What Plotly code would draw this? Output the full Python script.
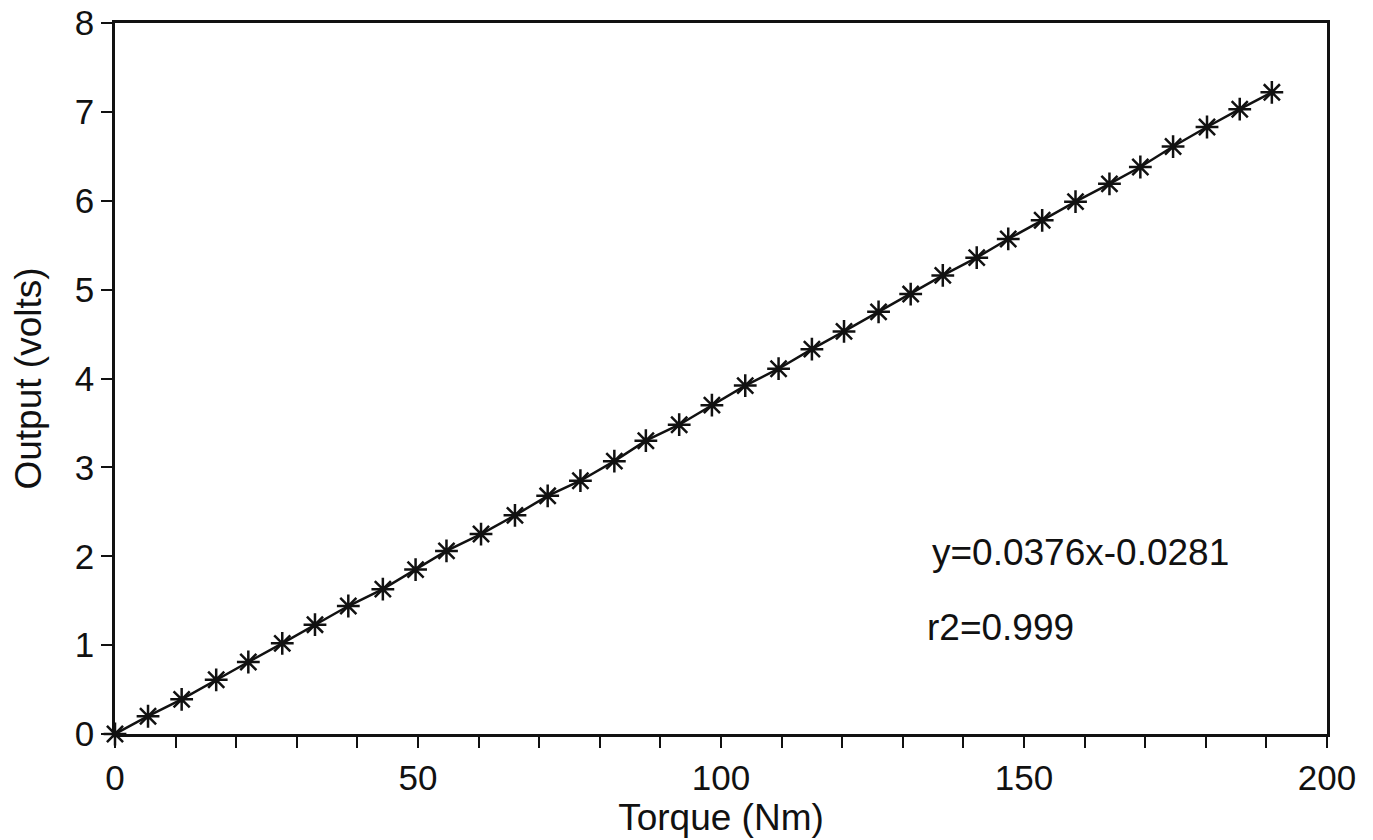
import plotly.graph_objects as go

torque = [0.0, 5.45, 11.0, 16.7, 22.0, 27.6, 33.0, 38.5, 44.2, 49.6,
          54.7, 60.4, 66.0, 71.4, 76.8, 82.4, 87.6, 93.1, 98.5, 104.0,
          109.5, 115.0, 120.3, 126.0, 131.3, 136.6, 142.2, 147.4, 153.0, 158.5,
          164.1, 169.2, 174.6, 180.2, 185.6, 190.9]
output = [0.00, 0.20, 0.39, 0.61, 0.81, 1.02, 1.23, 1.44, 1.63, 1.85,
          2.06, 2.25, 2.46, 2.68, 2.85, 3.07, 3.30, 3.48, 3.70, 3.92,
          4.11, 4.33, 4.53, 4.75, 4.95, 5.16, 5.36, 5.57, 5.78, 5.99,
          6.19, 6.38, 6.61, 6.83, 7.03, 7.22]

x_tickvals = list(range(0, 201, 10))
x_ticktext = [str(v) if v % 50 == 0 else "" for v in x_tickvals]
y_tickvals = list(range(0, 9))
y_ticktext = [str(v) for v in y_tickvals]

eq_text = "y=0.0376x-0.0281"
r2_text = "r2=0.999"

FONT = "Liberation Sans, Arial, sans-serif"
INK = "#111111"

fig = go.Figure()
fig.add_trace(go.Scatter(
    x=torque, y=output, mode="lines+markers",
    line=dict(color=INK, width=2.5),
    marker=dict(symbol="asterisk-open", size=19, color=INK,
                line=dict(color=INK, width=2.5)),
    showlegend=False, cliponaxis=False,
))

fig.add_annotation(x=134.5, y=2.04, xref="x", yref="y", text=eq_text,
                   showarrow=False, xanchor="left", yanchor="middle",
                   font=dict(family=FONT, size=37, color=INK))
fig.add_annotation(x=133.7, y=1.20, xref="x", yref="y", text=r2_text,
                   showarrow=False, xanchor="left", yanchor="middle",
                   font=dict(family=FONT, size=37, color=INK))

fig.update_layout(
    width=1365, height=832,
    margin=dict(l=107, r=46, t=15, b=106),
    paper_bgcolor="white", plot_bgcolor="white",
    font=dict(family=FONT, color=INK),
    xaxis=dict(
        range=[0, 200], tickvals=x_tickvals, ticktext=x_ticktext,
        ticks="outside", ticklen=11, tickwidth=2, tickcolor=INK,
        showline=True, linecolor=INK, linewidth=2.5, mirror=True,
        showgrid=False, zeroline=False, automargin=False,
        ticklabeloverflow="allow",
        tickfont=dict(family=FONT, size=35, color=INK),
        title=dict(text="Torque (Nm)", font=dict(family=FONT, size=37, color=INK),
                   standoff=0),
    ),
    yaxis=dict(
        range=[0, 8], tickvals=y_tickvals, ticktext=y_ticktext,
        ticks="outside", ticklen=11, tickwidth=2, tickcolor=INK,
        showline=True, linecolor=INK, linewidth=2.5, mirror=True,
        showgrid=False, zeroline=False, automargin=False,
        ticklabeloverflow="allow",
        tickfont=dict(family=FONT, size=35, color=INK),
        title=dict(text="Output (volts)", font=dict(family=FONT, size=37, color=INK),
                   standoff=26),
    ),
)

fig.write_html("out.html")
